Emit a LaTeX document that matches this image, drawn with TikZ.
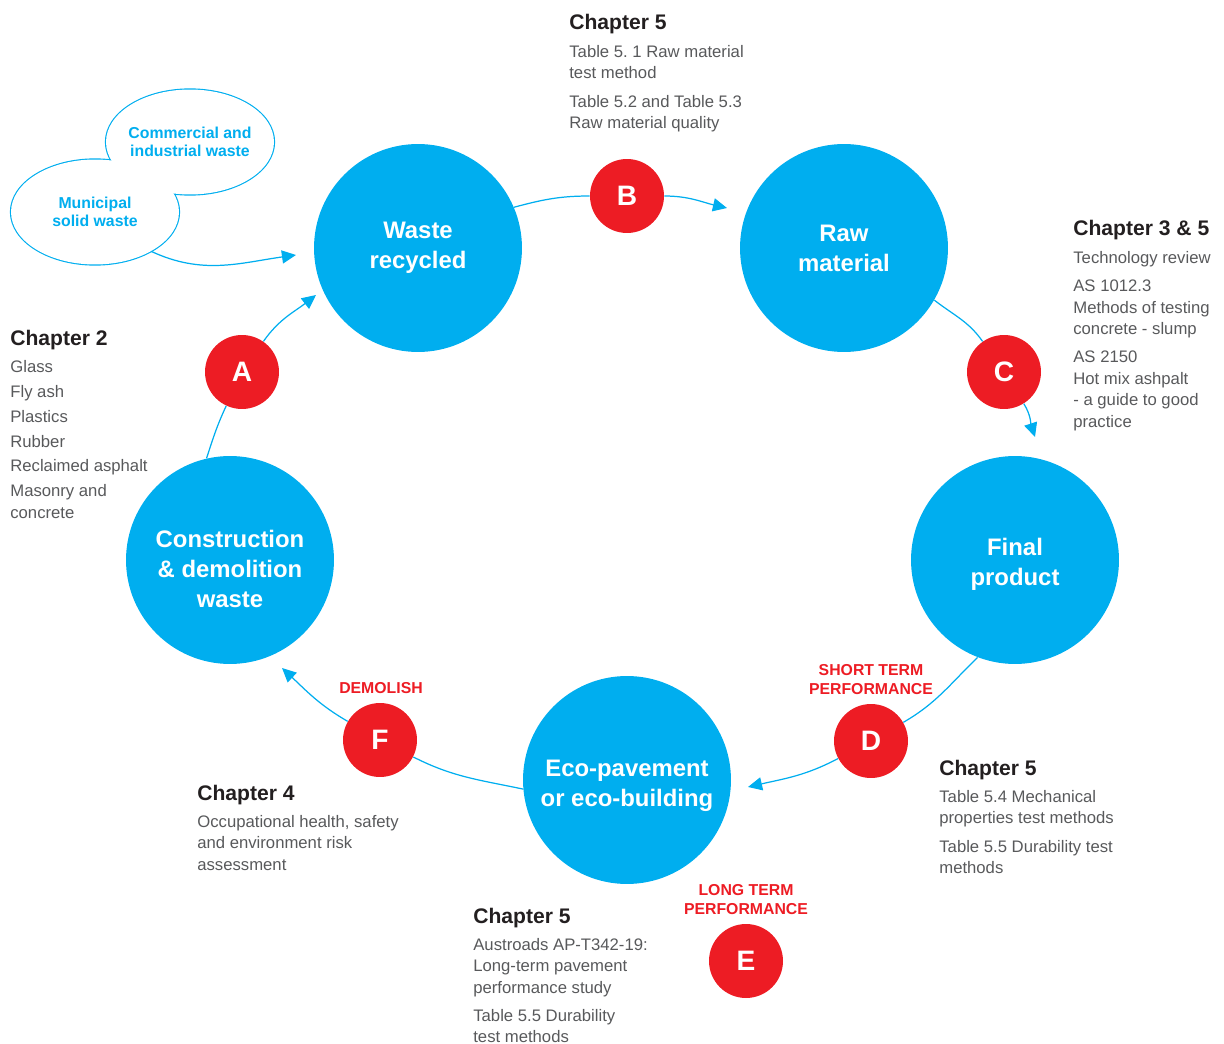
\documentclass[tikz,border=0pt]{standalone}
\usepackage{fontspec}
\setmainfont{Liberation Sans}
\usetikzlibrary{positioning,arrows.meta,shapes.geometric}
\pgfdeclarelayer{bg}
\pgfsetlayers{bg,main}
\definecolor{ecoblue}{HTML}{00AEEF}
\definecolor{ecored}{HTML}{ED1C24}
\definecolor{inkdark}{HTML}{231F20}
\definecolor{inkgray}{HTML}{58595B}
\tikzset{
	>={Triangle[length=8pt,width=7.5pt]}
}

\begin{document}
\begin{tikzpicture}[
	x = 0.02cm, y = -0.02cm,
	node distance = 2mm,
	stage/.style = {
		circle, fill = ecoblue,
		minimum size = 4.16cm, inner sep = 0pt
	},
	stagetext/.style = {
		text = white, align = center, inner sep = 0pt,
		font = \bfseries\fontsize{13.6}{17}\selectfont
	},
	letter/.style = {
		circle, fill = ecored, text = white,
		minimum size = 1.48cm, inner sep = 0pt,
		font = \bfseries\fontsize{16}{16}\selectfont
	},
	source/.style = {
		ellipse, fill = white,
		minimum width = 3.36cm, minimum height = 2.1cm, inner sep = 0pt
	},
	sourcetext/.style = {
		text = ecoblue, align = center, inner sep = 0pt,
		font = \bfseries\fontsize{9}{10.2}\selectfont
	},
	rim/.style = {
		draw = ecoblue, line width = 1.3pt
	},
	heading/.style = {
		anchor = base west, inner sep = 0pt, text = inkdark,
		font = \bfseries\fontsize{12}{14}\selectfont
	},
	notes/.style = {
		inner sep = 0pt, align = left, text = inkgray,
		font = \fontsize{9.5}{12.2}\selectfont
	},
	phase/.style = {
		align = center, inner sep = 0pt, text = ecored,
		font = \bfseries\fontsize{9}{10.8}\selectfont
	},
	conn/.style = {
		draw = ecoblue, line width = 0.7pt
	}
	]
	
	\useasboundingbox (0,0) rectangle (1224,1044);
	
	% stages of the cycle
	\node[stage] (waste) at (418,248) {};
	\node[stage] (raw) at (844,248) {};
	\node[stage] (final) at (1015,560) {};
	\node[stage] (eco) at (627,780) {};
	\node[stage] (cdw) at (230,560) {};
	
	\node[stagetext] (wasteText) at (waste) {Waste\\recycled};
	\node[stagetext] (rawText) at (raw) {Raw\\material};
	\node[stagetext, yshift = -0.08cm] (finalText) at (final) {Final\\product};
	\node[stagetext, yshift = -0.12cm] (ecoText) at (eco) {Eco-pavement\\or eco-building};
	\node[stagetext, yshift = -0.18cm] (cdwText) at (cdw) {Construction\\\& demolition\\waste};
	
	\node[letter] (A) at (242,372) {A};
	\node[letter] (B) at (627,196) {B};
	\node[letter] (C) at (1004,372) {C};
	\node[letter] (D) at (871,741) {D};
	\node[letter] (E) at (746,961) {E};
	\node[letter] (F) at (380,740) {F};
	
	% waste sources
	\node[source] (comm) at (190,142) {};
	\node[source] (muni) at (95,212) {};
	\begin{pgfonlayer}{bg}
		\draw[rim] (comm.center) ellipse [x radius = 1.68cm, y radius = 1.05cm];
		\draw[rim] (muni.center) ellipse [x radius = 1.68cm, y radius = 1.05cm];
	\end{pgfonlayer}
	\node[sourcetext] (commText) at (comm) {Commercial and\\industrial waste};
	\node[sourcetext] (muniText) at (muni) {Municipal\\solid waste};
	
	\coordinate (srcTip) at (296,255);
	\coordinate (aTip) at (316,295);
	\coordinate (bTip) at (727,208);
	\coordinate (cTip) at (1035,437);
	\coordinate (dTip) at (748,787);
	\coordinate (fTip) at (282,668);
	
	\draw[conn, ->] (muni.-35) to[out=-25, in=188] (srcTip);
	
	\draw[conn] (cdw.103) to[out=72, in=245] (A);
	\draw[conn, ->] (A) to[out=55, in=218] (aTip);
	\draw[conn] (waste.23) to[out=15, in=180] (B);
	\draw[conn, ->] (B) to[out=0, in=167] (bTip);
	\draw[conn] (raw.-30) to[out=-38, in=125] (C);
	\draw[conn, ->] (C) to[out=-58, in=108] (cTip);
	\draw[conn] (final.-111) to[out=224, in=30] (D);
	\draw[conn, ->] (D) to[out=208, in=13] (dTip);
	\draw[conn] (eco.185) to[out=168, in=-27] (F);
	\draw[conn, ->] (F) to[out=150, in=-43] (fTip);
	
	\node[phase] (shortLbl) at (871,680) {SHORT TERM\\PERFORMANCE};
	\node[phase] (longLbl) at (746,900) {LONG TERM\\PERFORMANCE};
	\node[phase] (demolishLbl) at (381,688) {DEMOLISH};
	
	% chapter notes
	\node[heading] (rawHead) at (569,30) {Chapter 5};
	\node[notes, below = of rawHead.south west, anchor = north west] (rawNotes)
		{Table 5.\ 1 Raw material\\test method\\[4pt]Table 5.2 and Table 5.3\\Raw material quality};
	
	\node[heading] (techHead) at (1073,236) {Chapter 3 \& 5};
	\node[notes, below = of techHead.south west, anchor = north west] (techNotes)
		{Technology review\\[4pt]AS 1012.3\\Methods of testing\\concrete - slump\\[4pt]AS 2150\\Hot mix ashpalt\\- a guide to good\\practice};
	
	\node[heading] (matHead) at (10,345) {Chapter 2};
	\node[notes, below = of matHead.south west, anchor = north west] (matNotes)
		{Glass\\[2pt]Fly ash\\[2pt]Plastics\\[2pt]Rubber\\[2pt]Reclaimed asphalt\\[2pt]Masonry and\\concrete};
	
	\node[heading] (ohsHead) at (197,800) {Chapter 4};
	\node[notes, below = of ohsHead.south west, anchor = north west] (ohsNotes)
		{Occupational health, safety\\and environment risk\\assessment};
	
	\node[heading] (mechHead) at (939,775) {Chapter 5};
	\node[notes, below = of mechHead.south west, anchor = north west] (mechNotes)
		{Table 5.4 Mechanical\\properties test methods\\[4pt]Table 5.5 Durability test\\methods};
	
	\node[heading] (ltppHead) at (473,923) {Chapter 5};
	\node[notes, below = of ltppHead.south west, anchor = north west] (ltppNotes)
		{Austroads AP-T342-19:\\Long-term pavement\\performance study\\[4pt]Table 5.5 Durability\\test methods};
	
\end{tikzpicture}
\end{document}
